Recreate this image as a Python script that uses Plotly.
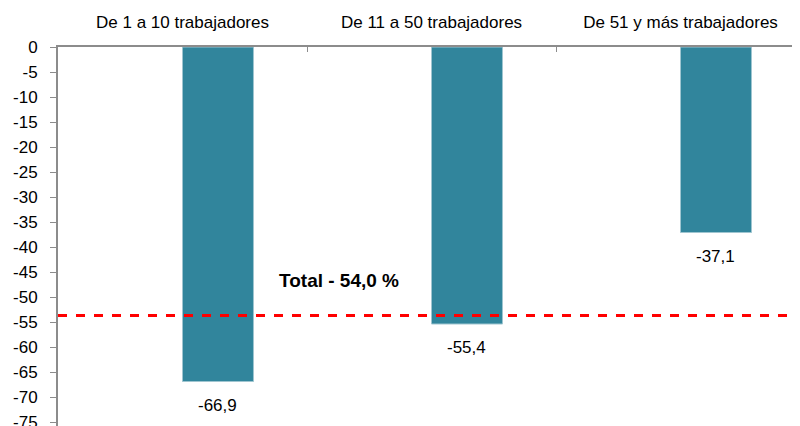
import plotly.graph_objects as go

categories = ["De 1 a 10 trabajadores", "De 11 a 50 trabajadores", "De 51 y más trabajadores"]
values = [-66.9, -55.4, -37.1]
value_labels = ["-66,9", "-55,4", "-37,1"]
total_line = -53.7
total_label = "Total - 54,0 %"
y_ticks = list(range(0, -80, -5))

BAR_W = 0.285
bar_color = "#31859C"
FONT = "Liberation Sans, Arial"

fig = go.Figure()
fig.add_trace(go.Bar(
    x=categories, y=values, width=BAR_W, offset=0,
    marker=dict(color=bar_color, line=dict(color="#9FC5D0", width=1)),
    showlegend=False, hoverinfo="skip",
))

for i, (v, t) in enumerate(zip(values, value_labels)):
    fig.add_annotation(x=i + BAR_W / 2, y=v, xref="x", yref="y", text=t,
                       showarrow=False, yanchor="top", yshift=-12,
                       font=dict(family=FONT, size=17, color="#000"))

fig.add_shape(type="line", xref="paper", x0=0, x1=1, yref="y", y0=total_line, y1=total_line,
              line=dict(color="#FF0000", width=3, dash="dash"))

fig.add_annotation(x=0.63, y=total_line, xref="x", yref="y", text="<b>" + total_label + "</b>",
                   showarrow=False, yanchor="bottom", yshift=23,
                   font=dict(family=FONT, size=19, color="#000"))

fig.update_layout(
    width=800, height=426,
    margin=dict(l=50, r=0, t=39, b=0),
    plot_bgcolor="white", paper_bgcolor="white",
    font=dict(family=FONT, size=17, color="#000"),
    xaxis=dict(
        type="category", side="top", range=[-0.5, 2.512], automargin=False,
        showline=True, linecolor="#8C8C8C", linewidth=2,
        ticks="inside", ticklen=5, tickcolor="#8C8C8C", tickson="boundaries",
        showgrid=False, zeroline=False, ticklabelstandoff=10,
        tickfont=dict(size=17),
    ),
    yaxis=dict(
        range=[-77.4, 0], tickvals=y_ticks, ticktext=[str(t) for t in y_ticks],
        automargin=False,
        showline=True, linecolor="#8C8C8C", linewidth=2,
        ticks="outside", ticklen=6, tickcolor="#8C8C8C",
        showgrid=False, zeroline=False, ticklabelstandoff=9,
        tickfont=dict(size=17),
    ),
)

fig.write_html("out.html")
